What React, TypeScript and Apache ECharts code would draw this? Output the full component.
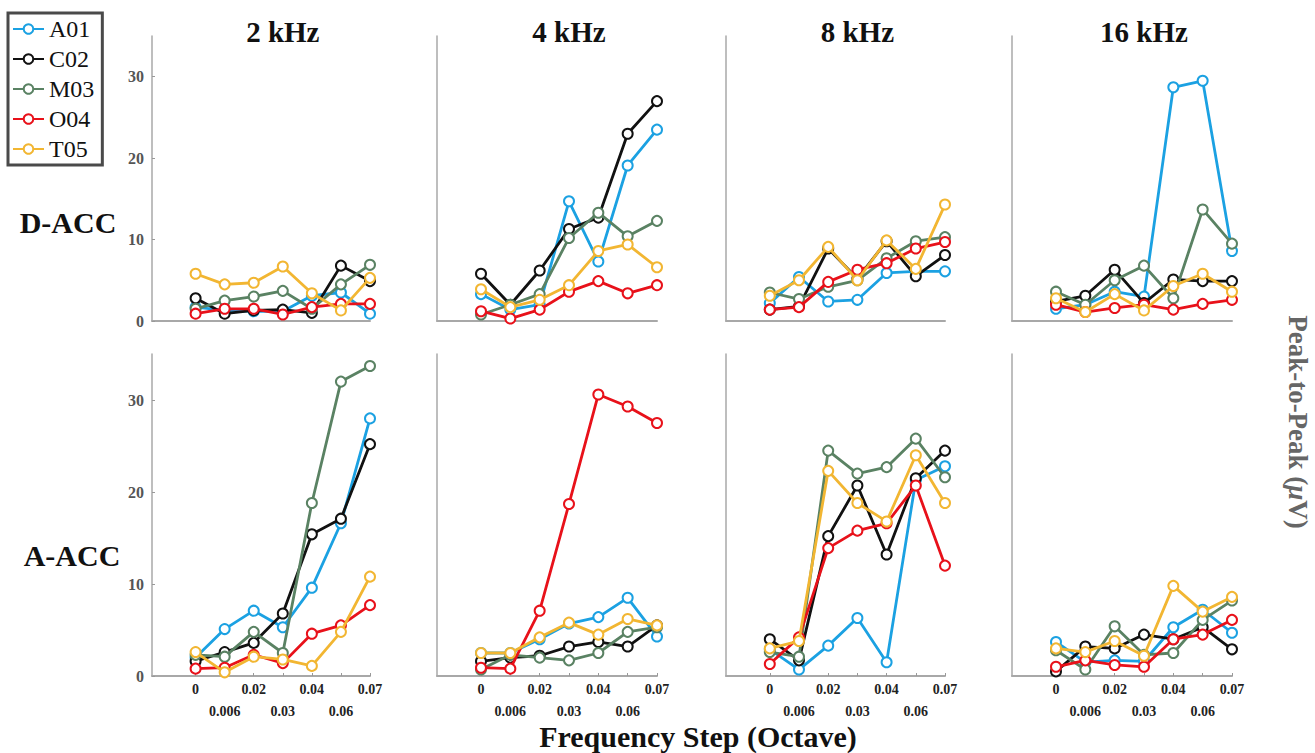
import React, { useEffect, useRef } from "react";
import * as echarts from "echarts";

const subjects = ["A01", "C02", "M03", "O04", "T05"];
const colors = ["#1BA1E2", "#111111", "#5A8263", "#E8111A", "#F2B632"];
const steps = ["0", "0.006", "0.02", "0.03", "0.04", "0.06", "0.07"];
const freqs = ["2 kHz", "4 kHz", "8 kHz", "16 kHz"];
const rowNames = ["D-ACC", "A-ACC"];
const yTicks = [0, 10, 20, 30];

// rows: A01, C02, M03, O04, T05 ; columns: frequency steps
const dAcc2k = [
  [1.7, 1.3, 1.2, 1.2, 3.1, 3.5, 0.9],
  [2.8, 0.9, 1.3, 1.4, 1.0, 6.8, 4.9],
  [1.5, 2.5, 3.0, 3.7, 1.5, 4.5, 6.9],
  [0.9, 1.5, 1.5, 0.8, 1.7, 2.1, 2.1],
  [5.8, 4.5, 4.7, 6.7, 3.4, 1.3, 5.3],
];
const dAcc4k = [
  [3.3, 1.4, 2.0, 14.7, 7.3, 19.1, 23.5],
  [5.8, 2.0, 6.2, 11.3, 12.7, 23.0, 27.0],
  [0.8, 2.0, 3.3, 10.2, 13.3, 10.4, 12.3],
  [1.2, 0.3, 1.4, 3.6, 4.9, 3.4, 4.4],
  [3.9, 1.7, 2.6, 4.4, 8.6, 9.4, 6.6],
];
const dAcc8k = [
  [2.2, 5.4, 2.4, 2.6, 5.9, 6.1, 6.1],
  [1.4, 1.8, 8.9, 5.2, 9.8, 5.5, 8.1],
  [3.5, 2.7, 4.2, 5.0, 7.7, 9.8, 10.3],
  [1.4, 1.7, 4.8, 6.3, 7.1, 8.9, 9.7],
  [3.1, 5.0, 9.1, 5.0, 9.9, 6.4, 14.3],
];
const dAcc16k = [
  [1.5, 2.0, 3.6, 3.0, 28.7, 29.5, 8.6],
  [2.4, 3.1, 6.3, 2.2, 5.1, 4.9, 4.9],
  [3.6, 2.0, 5.0, 6.8, 2.8, 13.7, 9.5],
  [2.0, 1.1, 1.6, 2.0, 1.4, 2.1, 2.6],
  [2.8, 1.1, 3.3, 1.3, 4.3, 5.8, 3.6],
];
const aAcc2k = [
  [2.0, 5.1, 7.1, 5.3, 9.6, 16.6, 28.0],
  [1.6, 2.6, 3.6, 6.8, 15.4, 17.1, 25.2],
  [2.3, 2.1, 4.8, 2.5, 18.8, 32.0, 33.7],
  [0.8, 0.9, 2.3, 1.4, 4.6, 5.5, 7.7],
  [2.6, 0.4, 2.1, 1.8, 1.1, 4.8, 10.8],
];
const aAcc4k = [
  [2.5, 2.5, 4.0, 5.7, 6.4, 8.5, 4.3],
  [1.6, 2.0, 2.2, 3.2, 3.7, 3.2, 5.5],
  [0.7, 2.3, 2.0, 1.7, 2.5, 4.8, 5.3],
  [0.9, 0.8, 7.1, 18.7, 30.6, 29.3, 27.5],
  [2.5, 2.5, 4.2, 5.8, 4.5, 6.2, 5.5],
];
const aAcc8k = [
  [2.9, 0.7, 3.3, 6.3, 1.5, 21.3, 22.8],
  [4.0, 1.7, 15.2, 20.7, 13.2, 21.5, 24.5],
  [2.6, 2.1, 24.5, 22.0, 22.7, 25.8, 21.6],
  [1.3, 4.2, 13.9, 15.8, 16.6, 20.7, 12.0],
  [3.0, 3.8, 22.3, 18.8, 16.8, 24.0, 18.8],
];
const aAcc16k = [
  [3.7, 1.5, 1.7, 1.6, 5.3, 7.2, 4.7],
  [0.5, 3.2, 3.0, 4.5, 4.0, 5.3, 2.9],
  [2.8, 0.7, 5.4, 2.3, 2.5, 6.1, 8.2],
  [1.0, 1.7, 1.2, 1.0, 4.0, 4.5, 6.1],
  [3.0, 2.6, 3.8, 2.2, 9.8, 7.0, 8.6],
];

const panels = [dAcc2k, dAcc4k, dAcc8k, dAcc16k, aAcc2k, aAcc4k, aAcc8k, aAcc16k];

const SERIF = "'Liberation Serif', 'Times New Roman', serif";
const colLeft = [152, 437, 726, 1012];
const colWidth = [218, 220, 219, 220];
const rowTop = [36, 354];
const rowHeight = [285, 322];

export default function App() {
  const ref = useRef<HTMLDivElement>(null);
  useEffect(() => {
    if (!ref.current) return;
    const chart = echarts.init(ref.current, null, { renderer: "svg" });
    const grids: any[] = [];
    const xAxes: any[] = [];
    const yAxes: any[] = [];
    const series: any[] = [];
    const evenIdx = [0, 2, 4, 6];
    const oddIdx = [1, 3, 5];
    const allIdx = [0, 1, 2, 3, 4, 5, 6];
    panels.forEach((panel, p) => {
      const r = Math.floor(p / 4);
      const c = p % 4;
      grids.push({
        left: colLeft[c],
        top: rowTop[r],
        width: colWidth[c],
        height: rowHeight[r],
        containLabel: false,
      });
      const baseX = {
        type: "value",
        gridIndex: p,
        position: "bottom",
        min: -1.5,
        max: 6,
        splitLine: { show: false },
      };
      const xi = xAxes.length;
      xAxes.push({
        ...baseX,
        axisLine: { show: true, onZero: false, lineStyle: { color: "#a8a8a8", width: 2 } },
        axisTick: r === 1
          ? { show: true, inside: true, length: 3, customValues: allIdx, lineStyle: { color: "#999" } }
          : { show: false },
        axisLabel: r === 1
          ? {
              show: true,
              customValues: evenIdx,
              margin: 6,
              formatter: (v: number) => steps[Math.round(v)],
              fontFamily: SERIF,
              fontWeight: "bold",
              fontSize: 14,
              color: "#222",
            }
          : { show: false },
      });
      if (r === 1) {
        xAxes.push({
          ...baseX,
          axisLine: { show: false, onZero: false },
          axisTick: { show: false },
          axisLabel: {
            show: true,
            customValues: oddIdx,
            margin: 28,
            formatter: (v: number) => steps[Math.round(v)],
            fontFamily: SERIF,
            fontWeight: "bold",
            fontSize: 14,
            color: "#222",
          },
        });
      }
      yAxes.push({
        type: "value",
        gridIndex: p,
        position: "left",
        min: 0,
        max: 35,
        splitLine: { show: false },
        axisLine: { show: true, onZero: false, lineStyle: { color: "#a8a8a8", width: 1.5 } },
        axisTick: c === 0
          ? { show: true, inside: true, length: 3, customValues: yTicks, lineStyle: { color: "#999" } }
          : { show: false },
        axisLabel: c === 0
          ? {
              show: true,
              customValues: yTicks,
              margin: 8,
              fontFamily: SERIF,
              fontWeight: "bold",
              fontSize: 16,
              color: "#555",
            }
          : { show: false },
      });
      panel.forEach((vals, s) => {
        series.push({
          type: "line",
          name: subjects[s],
          xAxisIndex: xi,
          yAxisIndex: p,
          data: vals.map((v, i) => [i, v]),
          symbol: "emptyCircle",
          symbolSize: 10,
          color: colors[s],
          lineStyle: { width: 2.8, color: colors[s] },
          itemStyle: { color: colors[s], borderColor: colors[s], borderWidth: 2.5 },
          z: 2 + s,
        });
      });
    });

    const graphic: any[] = [];
    freqs.forEach((f, c) => {
      graphic.push({
        type: "text",
        x: colLeft[c] + colWidth[c] * 0.6,
        y: 32,
        style: {
          text: f,
          font: `bold 29px ${SERIF}`,
          fill: "#111",
          textAlign: "center",
          textVerticalAlign: "middle",
        },
      });
    });
    rowNames.forEach((n, r) => {
      graphic.push({
        type: "text",
        x: r === 0 ? 68 : 72,
        y: r === 0 ? 222 : 555,
        style: {
          text: n,
          font: `bold 30px ${SERIF}`,
          fill: "#111",
          textAlign: "center",
          textVerticalAlign: "middle",
        },
      });
    });
    graphic.push({
      type: "text",
      x: 698,
      y: 736,
      style: {
        text: "Frequency Step (Octave)",
        font: `bold 30px ${SERIF}`,
        fill: "#111",
        textAlign: "center",
        textVerticalAlign: "middle",
      },
    });
    graphic.push({
      type: "text",
      x: 1298,
      y: 422,
      rotation: -Math.PI / 2,
      style: {
        text: "Peak-to-Peak ({i|μ}V)",
        font: `bold 27px ${SERIF}`,
        fill: "#666",
        textAlign: "center",
        textVerticalAlign: "middle",
        rich: {
          i: { fontStyle: "italic", fontWeight: "bold", fontSize: 27, fontFamily: SERIF, fill: "#666", color: "#666" },
        },
      },
    });

    chart.setOption({
      animation: false,
      backgroundColor: "#ffffff",
      grid: grids,
      xAxis: xAxes,
      yAxis: yAxes,
      series,
      graphic,
      legend: {
        data: subjects,
        orient: "vertical",
        left: 8,
        top: 13,
        padding: [4, 8, 4, 4],
        borderColor: "#4a4a4a",
        borderWidth: 3,
        itemWidth: 31,
        itemHeight: 12,
        itemGap: 6,
        textStyle: { fontFamily: SERIF, fontSize: 24, color: "#111", lineHeight: 24 },
      },
    });
    return () => chart.dispose();
  }, []);
  return (
    <div
      ref={ref}
      style={{ position: "absolute", left: 0, top: 0, width: 1315, height: 753, background: "#fff" }}
    />
  );
}
